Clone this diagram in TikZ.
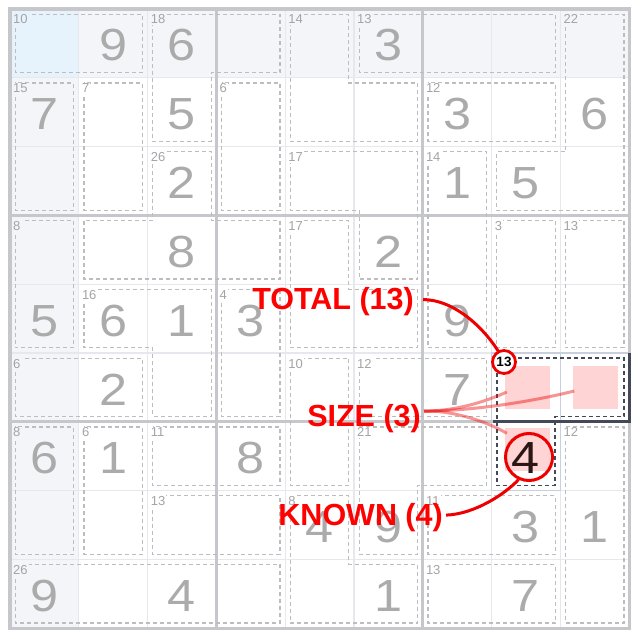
\documentclass[tikz,border=0pt]{standalone}
\usepackage{fontspec}
\setmainfont{Liberation Sans}
\newfontfamily\digfont{Liberation Sans}[FakeStretch=1.12]
\definecolor{rowbg}{HTML}{F4F5F9}
\definecolor{selbg}{HTML}{E6F3FC}
\definecolor{thinc}{HTML}{E6E8ED}
\definecolor{thickc}{HTML}{C6C7CB}
\definecolor{cagec}{HTML}{BDBDBD}
\definecolor{digc}{HTML}{ABABAB}
\definecolor{labc}{HTML}{A4A4A4}
\definecolor{darkc}{HTML}{434957}
\definecolor{hlgrid}{HTML}{C8D0DE}
\definecolor{pinkf}{HTML}{FFD4D4}
\definecolor{annred}{HTML}{FF0000}
\definecolor{lnred}{HTML}{EE0000}
\definecolor{knownc}{HTML}{2B1616}
\newcommand{\cin}{0.0756}
\tikzset{
  thinl/.style={draw=thinc, line width=1.2pt},
  thickl/.style={draw=thickc, line width=3.2pt},
  hlcell/.style={draw=hlgrid, line width=1.2pt},
  cage/.style={draw=cagec, line width=1.2pt, dash pattern=on 4pt off 3pt},
  hcage/.style={draw=darkc, line width=1.6pt, dash pattern=on 4pt off 3pt},
  dig/.style={anchor=base, inner sep=0pt, text=digc, font={\digfont\fontsize{45pt}{45pt}\selectfont}},
  lab/.style={anchor=base west, inner sep=1.2pt, text=labc, font={\fontsize{13pt}{13pt}\selectfont}},
  ann/.style={anchor=base east, inner sep=0pt, text=annred, font={\bfseries\fontsize{30.5pt}{30.5pt}\selectfont}},
  sqr/.style={fill=pinkf, minimum width=45pt, minimum height=43pt, inner sep=0pt},
  conn/.style={draw=lnred, line width=3pt},
  softconn/.style={draw=lnred, line width=3pt, draw opacity=0.42},
  smallcirc/.style={circle, draw=lnred, line width=2.8pt, fill=white, minimum size=23pt, inner sep=0pt, font={\bfseries\fontsize{13.5pt}{13.5pt}\selectfont}},
  bigcirc/.style={circle, draw=lnred, line width=3pt, minimum size=47pt, inner sep=0pt}
}
\newcommand{\rcage}[4]{\draw[cage] ({#1+\cin},{#2+\cin}) rectangle ({#3-\cin},{#4-\cin});}
\newcommand{\given}[3]{\node[dig, yshift=-52pt] (g#1#2) at ({#2-0.5},{#1-1}) {#3};}
\newcommand{\clab}[4]{\node[lab, fill=#4, xshift=1.8pt, yshift=-15pt] (l#1#2) at ({#2-1},{#1-1}) {#3};}
\begin{document}
\begin{tikzpicture}[x=1pt, y=-1pt]
\useasboundingbox (0,0) rectangle (640,639);
\fill[white] (0,0) rectangle (640,639);
\begin{scope}[shift={(10pt,-9pt)}, x=68.8pt, y=-68.8pt]
  % backgrounds
  \fill[rowbg] (0,0) rectangle (9,1);
  \fill[rowbg] (0,0) rectangle (1,9);
  \fill[selbg] (0,0) rectangle (1,1);
  % thin grid
  \foreach \i in {1,2,4,5,7,8} {
    \draw[thinl] (\i,0) -- (\i,9);
    \draw[thinl] (0,\i) -- (9,\i);
  }
  % highlighted cells grid
  \draw[hlcell] (7,5) rectangle (8,6);
  \draw[hlcell] (8,5) rectangle (9,6);
  \draw[hlcell] (7,6) rectangle (8,7);
  % thick lines
  \foreach \i in {3,6} {
    \draw[thickl] (\i,0) -- (\i,9);
    \draw[thickl] (0,\i) -- (9,\i);
  }
  \draw[thickl] (0,0) rectangle (9,9);
  % rectangular cages
  \rcage{0}{0}{2}{1}
  \rcage{5}{0}{8}{1}
  \rcage{0}{1}{1}{3}
  \rcage{1}{1}{2}{3}
  \rcage{3}{1}{4}{3}
  \rcage{6}{1}{8}{2}
  \rcage{6}{2}{7}{5}
  \rcage{0}{3}{1}{5}
  \rcage{7}{3}{8}{5}
  \rcage{8}{3}{9}{5}
  \rcage{3}{4}{4}{6}
  \rcage{0}{5}{2}{6}
  \rcage{4}{5}{5}{7}
  \rcage{5}{5}{7}{6}
  \rcage{0}{6}{1}{8}
  \rcage{1}{6}{2}{8}
  \rcage{2}{6}{4}{7}
  \rcage{2}{7}{4}{8}
  \rcage{0}{8}{4}{9}
  \rcage{6}{7}{8}{8}
  \rcage{8}{6}{9}{9}
  \rcage{6}{8}{8}{9}
  % polygon cages
  \draw[cage] ({2+\cin},{0+\cin}) -- ({4-\cin},{0+\cin}) -- ({4-\cin},{1-\cin}) -- ({3-\cin},{1-\cin}) -- ({3-\cin},{2-\cin}) -- ({2+\cin},{2-\cin}) -- cycle;
  \draw[cage] ({4+\cin},{0+\cin}) -- ({5-\cin},{0+\cin}) -- ({5-\cin},{1+\cin}) -- ({6-\cin},{1+\cin}) -- ({6-\cin},{2-\cin}) -- ({4+\cin},{2-\cin}) -- cycle;
  \draw[cage] ({8+\cin},{0+\cin}) -- ({9-\cin},{0+\cin}) -- ({9-\cin},{3-\cin}) -- ({7+\cin},{3-\cin}) -- ({7+\cin},{2+\cin}) -- ({8+\cin},{2+\cin}) -- cycle;
  \draw[cage] ({2+\cin},{2+\cin}) -- ({3-\cin},{2+\cin}) -- ({3-\cin},{3+\cin}) -- ({4-\cin},{3+\cin}) -- ({4-\cin},{4-\cin}) -- ({1+\cin},{4-\cin}) -- ({1+\cin},{3+\cin}) -- ({2+\cin},{3+\cin}) -- cycle;
  \draw[cage] ({4+\cin},{2+\cin}) -- ({6-\cin},{2+\cin}) -- ({6-\cin},{4-\cin}) -- ({5+\cin},{4-\cin}) -- ({5+\cin},{3-\cin}) -- ({4+\cin},{3-\cin}) -- cycle;
  \draw[cage] ({4+\cin},{3+\cin}) -- ({5-\cin},{3+\cin}) -- ({5-\cin},{4+\cin}) -- ({6-\cin},{4+\cin}) -- ({6-\cin},{5-\cin}) -- ({4+\cin},{5-\cin}) -- cycle;
  \draw[cage] ({1+\cin},{4+\cin}) -- ({3-\cin},{4+\cin}) -- ({3-\cin},{6-\cin}) -- ({2+\cin},{6-\cin}) -- ({2+\cin},{5-\cin}) -- ({1+\cin},{5-\cin}) -- cycle;
  \draw[cage] ({5+\cin},{6+\cin}) -- ({7-\cin},{6+\cin}) -- ({7-\cin},{7-\cin}) -- ({6-\cin},{7-\cin}) -- ({6-\cin},{8-\cin}) -- ({5+\cin},{8-\cin}) -- cycle;
  \draw[cage] ({4+\cin},{7+\cin}) -- ({5-\cin},{7+\cin}) -- ({5-\cin},{8+\cin}) -- ({6-\cin},{8+\cin}) -- ({6-\cin},{9-\cin}) -- ({4+\cin},{9-\cin}) -- cycle;
  \draw[hcage] ({7+\cin},{5+\cin}) -- ({9-\cin},{5+\cin}) -- ({9-\cin},{6-\cin}) -- ({8-\cin},{6-\cin}) -- ({8-\cin},{7-\cin}) -- ({7+\cin},{7-\cin}) -- cycle;
  % cage labels
  \clab{1}{1}{10}{selbg}
  \clab{1}{3}{18}{rowbg}
  \clab{1}{5}{14}{rowbg}
  \clab{1}{6}{13}{rowbg}
  \clab{1}{9}{22}{rowbg}
  \clab{2}{1}{15}{rowbg}
  \clab{2}{2}{7}{white}
  \clab{2}{4}{6}{white}
  \clab{2}{7}{12}{white}
  \clab{3}{3}{26}{white}
  \clab{3}{5}{17}{white}
  \clab{3}{7}{14}{white}
  \clab{4}{1}{8}{rowbg}
  \clab{4}{5}{17}{white}
  \clab{4}{8}{3}{white}
  \clab{4}{9}{13}{white}
  \clab{5}{2}{16}{white}
  \clab{5}{4}{4}{white}
  \clab{6}{1}{6}{rowbg}
  \clab{6}{5}{10}{white}
  \clab{6}{6}{12}{white}
  \clab{7}{1}{8}{rowbg}
  \clab{7}{2}{6}{white}
  \clab{7}{3}{11}{white}
  \clab{7}{6}{21}{white}
  \clab{7}{9}{12}{white}
  \clab{8}{3}{13}{white}
  \clab{8}{5}{8}{white}
  \clab{8}{7}{11}{white}
  \clab{9}{1}{26}{rowbg}
  \clab{9}{7}{13}{white}
  % givens
  \given{1}{2}{9} \given{1}{3}{6} \given{1}{6}{3}
  \given{2}{1}{7} \given{2}{3}{5} \given{2}{7}{3} \given{2}{9}{6}
  \given{3}{3}{2} \given{3}{7}{1} \given{3}{8}{5}
  \given{4}{3}{8} \given{4}{6}{2}
  \given{5}{1}{5} \given{5}{2}{6} \given{5}{3}{1} \given{5}{4}{3} \given{5}{7}{9}
  \given{6}{2}{2} \given{6}{7}{7}
  \given{7}{1}{6} \given{7}{2}{1} \given{7}{4}{8}
  \given{8}{5}{4} \given{8}{6}{9} \given{8}{8}{3} \given{8}{9}{1}
  \given{9}{1}{9} \given{9}{3}{4} \given{9}{6}{1} \given{9}{8}{7}
\end{scope}
% highlighted cage: pink squares
\node[sqr] (sq1) at (527.5,387.5) {};
\node[sqr] (sq2) at (595,387.5) {};
\node[sqr] (sq3) at (527.5,449) {};
% dark borders
\draw[draw=darkc, line width=3pt] (493,421.8) -- (629.2,421.8);
\draw[draw=darkc, line width=3pt] (629.2,353) -- (629.2,423.3);
% known digit
\node[dig, text=knownc] (k4) at (526,473) {4};
% annotation labels
\node[ann] (tot) at (414,309) {TOTAL (13)};
\node[ann] (siz) at (421,426.5) {SIZE (3)};
\node[ann] (kno) at (443,525) {KNOWN (4)};
% circles
\node[bigcirc] (c4) at (529,457) {};
% connectors
\draw[softconn] ([shift={(3pt,7.5pt)}]siz.east) .. controls +(31,0) and +(-22,10) .. ([shift={(2pt,-4.5pt)}]sq1.west);
\draw[softconn] ([shift={(3pt,7.5pt)}]siz.east) .. controls +(46,0) and +(-44,11) .. ([shift={(2pt,-3.5pt)}]sq2.west);
\draw[softconn] ([shift={(3pt,7.5pt)}]siz.east) .. controls +(26,-1) and +(-22,-13) .. ([shift={(2pt,-6pt)}]sq3.north west);
\draw[conn] ([shift={(9pt,1.5pt)}]tot.east) .. controls +(37,0) and +(-10,-23) .. (504,362);
\draw[conn] ([shift={(3pt,2pt)}]kno.east) .. controls +(29,-1) and +(-13,14) .. (c4.245);
\node[smallcirc] (c13) at (504,362) {13};
\end{tikzpicture}
\end{document}
